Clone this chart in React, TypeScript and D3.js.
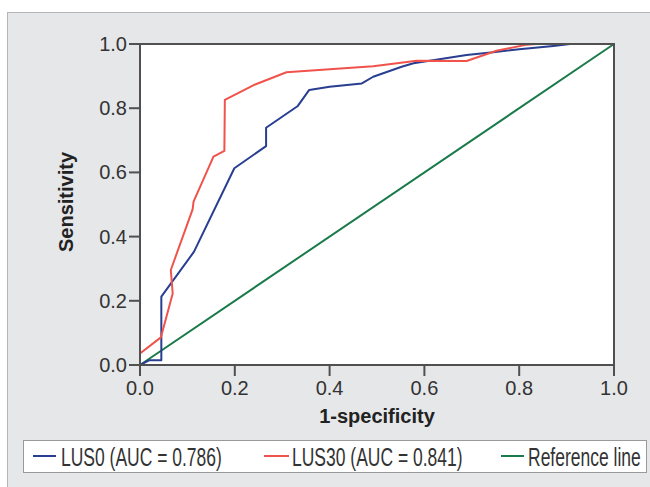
import React from "react";
import * as d3 from "d3";

const lus0Fpr = [0, 0.02, 0.045, 0.045, 0.114, 0.199, 0.266, 0.266, 0.333, 0.357, 0.40, 0.468, 0.492, 0.552, 0.577, 0.689, 0.745, 0.80, 0.872, 0.907, 1];
const lus0Tpr = [0, 0.015, 0.015, 0.213, 0.353, 0.613, 0.682, 0.739, 0.807, 0.857, 0.867, 0.877, 0.898, 0.929, 0.94, 0.966, 0.974, 0.984, 0.994, 1, 1];

const lus30Fpr = [0, 0, 0.044, 0.069, 0.065, 0.111, 0.113, 0.155, 0.178, 0.179, 0.243, 0.309, 0.40, 0.492, 0.584, 0.689, 0.752, 0.816, 0.836, 1];
const lus30Tpr = [0, 0.036, 0.086, 0.223, 0.296, 0.485, 0.509, 0.649, 0.667, 0.826, 0.874, 0.912, 0.921, 0.931, 0.948, 0.947, 0.979, 0.998, 1, 1];

const refFpr = [0, 1];
const refTpr = [0, 1];

const ticks = [0, 0.2, 0.4, 0.6, 0.8, 1.0];

const legendLabels = ["LUS0 (AUC = 0.786)", "LUS30 (AUC = 0.841)", "Reference line"];

const COLORS = ["#283e91", "#f0534b", "#1b7a4a"];

export default function App() {
  const W = 650, H = 487;
  const x = d3.scaleLinear().domain([0, 1]).range([140, 614]);
  const y = d3.scaleLinear().domain([0, 1]).range([365, 44]);
  const line = d3
    .line<[number, number]>()
    .x((d) => x(d[0]))
    .y((d) => y(d[1]));
  const series = [
    lus0Fpr.map((v, i) => [v, lus0Tpr[i]] as [number, number]),
    lus30Fpr.map((v, i) => [v, lus30Tpr[i]] as [number, number]),
    refFpr.map((v, i) => [v, refTpr[i]] as [number, number]),
  ];
  const font = "'Liberation Sans', Arial, sans-serif";
  const legendItems = [
    { lx0: 33, lx1: 56, tx: 61 },
    { lx0: 264, lx1: 289, tx: 292 },
    { lx0: 501, lx1: 524, tx: 528 },
  ];
  return (
    <svg
      width={W}
      height={H}
      style={{ position: "absolute", left: 0, top: 0, display: "block" }}
      fontFamily={font}
    >
      <rect x={0} y={0} width={W} height={H} fill="#ffffff" />
      <rect x={7.5} y={12.5} width={W} height={H} fill="#e6e7e9" stroke="#b4b5b7" strokeWidth={1} />
      <rect x={x(0)} y={y(1)} width={x(1) - x(0)} height={y(0) - y(1)} fill="#ffffff" />
      <defs>
        <clipPath id="plotclip">
          <rect x={x(0) - 1} y={y(1) - 1} width={x(1) - x(0) + 2} height={y(0) - y(1) + 2} />
        </clipPath>
      </defs>
      <g clipPath="url(#plotclip)" fill="none" strokeWidth={2} strokeLinejoin="round">
        <path d={line(series[2]) || ""} stroke={COLORS[2]} />
        <path d={line(series[0]) || ""} stroke={COLORS[0]} />
        <path d={line(series[1]) || ""} stroke={COLORS[1]} />
      </g>
      <rect
        x={x(0)}
        y={y(1)}
        width={x(1) - x(0)}
        height={y(0) - y(1)}
        fill="none"
        stroke="#505050"
        strokeWidth={2}
      />
      {ticks.map((t) => (
        <g key={"y" + t}>
          <line x1={x(0) - 11} x2={x(0)} y1={y(t)} y2={y(t)} stroke="#505050" strokeWidth={2} />
          <text x={x(0) - 13} y={y(t) + 7} textAnchor="end" fontSize={20} fill="#333">
            {t.toFixed(1)}
          </text>
        </g>
      ))}
      {ticks.map((t) => (
        <g key={"x" + t}>
          <line x1={x(t)} x2={x(t)} y1={y(0)} y2={y(0) + 11} stroke="#505050" strokeWidth={2} />
          <text x={x(t)} y={395} textAnchor="middle" fontSize={20} fill="#333">
            {t.toFixed(1)}
          </text>
        </g>
      ))}
      <text x={377} y={423} textAnchor="middle" fontSize={20} fontWeight="bold" fill="#222">
        1-specificity
      </text>
      <text
        transform="translate(73,202) rotate(-90)"
        textAnchor="middle"
        fontSize={20}
        fontWeight="bold"
        fill="#222"
      >
        Sensitivity
      </text>
      <rect x={23.5} y={440.5} width={623} height={32} fill="#ffffff" stroke="#9a9a9a" strokeWidth={1} />
      {legendItems.map((it, i) => (
        <g key={i}>
          <line x1={it.lx0} x2={it.lx1} y1={456} y2={456} stroke={COLORS[i]} strokeWidth={2} />
          <text
            transform={`translate(${it.tx},466) scale(0.7,1)`}
            fontSize={25}
            fill="#333"
          >
            {legendLabels[i]}
          </text>
        </g>
      ))}
    </svg>
  );
}
